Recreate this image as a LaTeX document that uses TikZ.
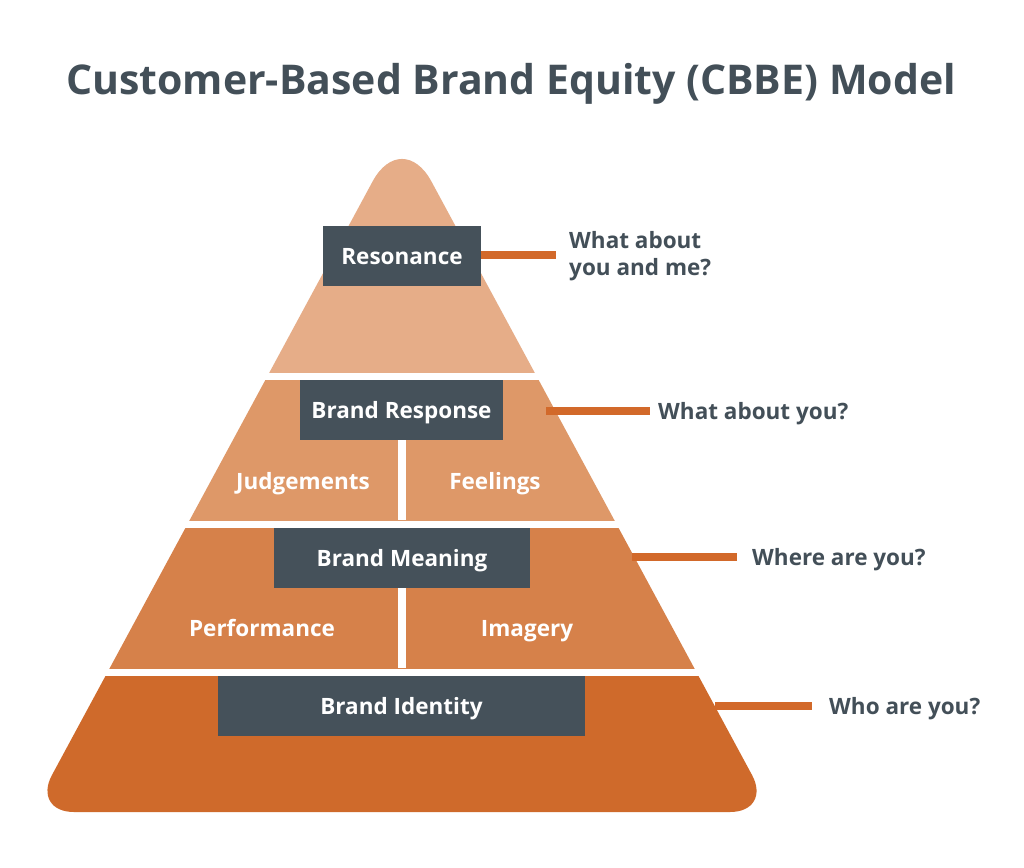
\documentclass[tikz,border=0pt]{standalone}
\usepackage{fontspec}
\setmainfont{Open Sans}
\definecolor{lvA}{HTML}{E6AD88}
\definecolor{lvB}{HTML}{DE9868}
\definecolor{lvC}{HTML}{D6814A}
\definecolor{lvD}{HTML}{CF6A2B}
\definecolor{boxc}{HTML}{45515A}
\definecolor{darktext}{HTML}{434F58}
\definecolor{connc}{HTML}{D2692A}
\newcommand\pyrpath{(402,812) [rounded corners=42pt] -- (32,812) [rounded corners=62pt] -- (402,127) [rounded corners=42pt] -- (772,812) -- cycle}
\begin{document}
\begin{tikzpicture}[x=1pt,y=-1pt,
  box/.style={fill=boxc, text=white, font=\bfseries\fontsize{22.5}{27}\selectfont,
    inner sep=0pt, minimum height=60pt, text height=16pt, text depth=0pt},
  sub/.style={text=white, font=\bfseries\fontsize{22.5}{27}\selectfont,
    inner sep=0pt, text height=16pt, text depth=0pt},
  quest/.style={text=darktext, font=\bfseries\fontsize{22.5}{27}\selectfont,
    inner sep=0pt, anchor=west, align=left},
  questone/.style={quest, text height=16pt, text depth=0pt},
  conn/.style={draw=connc, line width=8pt}]
\useasboundingbox (0,0) rectangle (1024,867);
\fill[white] (0,0) rectangle (1024,867);
% title
\node[text=darktext, font=\bfseries\fontsize{41}{48}\selectfont, inner sep=0pt,
  text height=29pt, text depth=0pt] (title) at (511,80) {Customer-Based Brand Equity (CBBE) Model};
% pyramid layers
\begin{scope}
  \clip (0,0) rectangle (1024,372);
  \fill[lvA] \pyrpath;
\end{scope}
\begin{scope}
  \clip (0,380) rectangle (1024,520);
  \fill[lvB] \pyrpath;
\end{scope}
\begin{scope}
  \clip (0,528) rectangle (1024,668);
  \fill[lvC] \pyrpath;
\end{scope}
\begin{scope}
  \clip (0,676) rectangle (1024,867);
  \fill[lvD] \pyrpath;
\end{scope}
% dividers
\fill[white] (398,440) rectangle (406,520);
\fill[white] (398,588) rectangle (406,668);
% boxes
\node[box, minimum width=158pt] (res) at (402,256) {Resonance};
\node[box, minimum width=203pt] (resp) at (401.5,410) {Brand Response};
\node[box, minimum width=256pt] (mean) at (402,558) {Brand Meaning};
\node[box, minimum width=367pt] (iden) at (401.5,706) {Brand Identity};
% sub labels
\node[sub] (judg) at (303,481) {Judgements};
\node[sub] (feel) at (495,481) {Feelings};
\node[sub] (perf) at (262,628) {Performance};
\node[sub] (imag) at (527,628) {Imagery};
% questions
\node[quest] (q1) at (569,256) {What about\\you and me?};
\node[questone] (q2) at (658,411) {What about you?};
\node[questone] (q3) at (752,557) {Where are you?};
\node[questone] (q4) at (829,706) {Who are you?};
% connectors
\coordinate (s2) at (546,411);
\coordinate (s3) at (632,557);
\coordinate (s4) at (715,706);
\draw[conn] (res.east |- 0,255) -- ([xshift=-13pt]q1.west |- 0,255);
\draw[conn] (s2) -- ([xshift=-8pt]q2.west);
\draw[conn] (s3) -- ([xshift=-15pt]q3.west);
\draw[conn] (s4) -- ([xshift=-17pt]q4.west);
\end{tikzpicture}
\end{document}
